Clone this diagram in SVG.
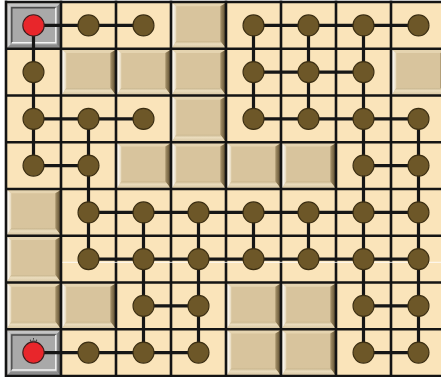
<svg xmlns="http://www.w3.org/2000/svg" width="441" height="377" viewBox="0 0 441 377">
<style>
.grid{stroke:#141414;stroke-width:2.6;fill:none}
.con line{stroke:#161616;stroke-width:3.2;stroke-linecap:butt}
.n{fill:#6d5728;stroke:#3b2e12;stroke-width:1.1}
.s{fill:#e8262b;stroke:#3b2020;stroke-width:1.1}
</style>
<defs>
<linearGradient id="gl" x1="0" y1="0" x2="1" y2="0">
<stop offset="0" stop-color="#ffffff"/><stop offset="1" stop-color="#e6d7b8"/>
</linearGradient>
<linearGradient id="gr" x1="0" y1="0" x2="1" y2="0">
<stop offset="0" stop-color="#a8946c"/><stop offset="1" stop-color="#5e4e30"/>
</linearGradient>
<linearGradient id="gb" x1="0" y1="0" x2="0" y2="1">
<stop offset="0" stop-color="#c9b68e"/><stop offset="0.4" stop-color="#eadcbd"/><stop offset="1" stop-color="#d9c8a4"/>
</linearGradient>
<g id="blk">
<rect x="0" y="0" width="53" height="44.5" fill="#d8c49d"/>
<polygon points="0,0 53,0 48,3 4,3" fill="#e5d4b0"/>
<polygon points="0,0 4,3 4,38 0,44.5" fill="url(#gl)"/>
<polygon points="53,0 53,44.5 48,38 48,3" fill="url(#gr)"/>
<polygon points="0,44.5 4,38 48,38 53,44.5" fill="url(#gb)"/>
</g>
<g id="gry">
<rect x="0" y="0" width="53" height="44.5" fill="#a3a3a3"/>
<polygon points="0,0 53,0 50,3 3,3" fill="#c4c4c4"/>
<polygon points="0,0 3,3 3,41.5 0,44.5" fill="#d0d0d0"/>
<polygon points="53,0 53,44.5 50,41.5 50,3" fill="#7a7a7a"/>
<polygon points="0,44.5 3,41.5 50,41.5 53,44.5" fill="#8c8c8c"/>
<rect x="4.5" y="4.5" width="44" height="35" fill="#a9a9a9"/>
<path d="M4.5 39.5 V4.5 H48.5" stroke="#4a4a4a" stroke-width="1.4" fill="none"/>
<path d="M48.5 4.5 V39.5 H4.5" stroke="#f4f4f4" stroke-width="1.4" fill="none"/>
</g>
</defs>
<rect x="0" y="0" width="441" height="377" fill="#ffffff"/>
<rect x="6" y="2" width="440" height="374" fill="#fae4ba"/>
<g id="tiles">
<use href="#gry" x="7.3" y="3.3"/>
<use href="#gry" x="7.3" y="330.55"/>
<use href="#blk" x="172.3" y="3.3"/>
<use href="#blk" x="62.3" y="50.05"/>
<use href="#blk" x="117.3" y="50.05"/>
<use href="#blk" x="172.3" y="50.05"/>
<use href="#blk" x="392.3" y="50.05"/>
<use href="#blk" x="172.3" y="96.8"/>
<use href="#blk" x="117.3" y="143.55"/>
<use href="#blk" x="172.3" y="143.55"/>
<use href="#blk" x="227.3" y="143.55"/>
<use href="#blk" x="282.3" y="143.55"/>
<use href="#blk" x="7.3" y="190.3"/>
<use href="#blk" x="7.3" y="237.05"/>
<use href="#blk" x="7.3" y="283.8"/>
<use href="#blk" x="62.3" y="283.8"/>
<use href="#blk" x="227.3" y="283.8"/>
<use href="#blk" x="282.3" y="283.8"/>
<use href="#blk" x="227.3" y="330.55"/>
<use href="#blk" x="282.3" y="330.55"/>
</g>
<path class="grid" d="M6 0.5V377 M61 0.5V377 M116 0.5V377 M171 0.5V377 M226 0.5V377 M281 0.5V377 M336 0.5V377 M391 0.5V377 M4.7 2H441 M4.7 48.75H441 M4.7 95.5H441 M4.7 142.25H441 M4.7 189H441 M4.7 235.75H441 M4.7 282.5H441 M4.7 329.25H441 M4.7 376H441"/>
<path d="M62.5 262.3H441" stroke="#ffffff" stroke-width="1" opacity="0.85"/>
<g id="connectors" class="con">
<line x1="33.5" y1="25.4" x2="88.5" y2="25.4"/>
<line x1="88.5" y1="25.4" x2="143.5" y2="25.4"/>
<line x1="253.5" y1="25.4" x2="418.5" y2="25.4"/>
<line x1="253.5" y1="72.1" x2="363.5" y2="72.1"/>
<line x1="33.5" y1="118.9" x2="143.5" y2="118.9"/>
<line x1="253.5" y1="118.9" x2="418.5" y2="118.9"/>
<line x1="33.5" y1="165.6" x2="88.5" y2="165.6"/>
<line x1="363.5" y1="165.6" x2="418.5" y2="165.6"/>
<line x1="88.5" y1="212.4" x2="418.5" y2="212.4"/>
<line x1="88.5" y1="259.1" x2="418.5" y2="259.1"/>
<line x1="143.5" y1="305.9" x2="198.5" y2="305.9"/>
<line x1="363.5" y1="305.9" x2="418.5" y2="305.9"/>
<line x1="33.5" y1="352.6" x2="198.5" y2="352.6"/>
<line x1="363.5" y1="352.6" x2="418.5" y2="352.6"/>
<line x1="33.5" y1="25.4" x2="33.5" y2="165.6"/>
<line x1="88.5" y1="118.9" x2="88.5" y2="259.1"/>
<line x1="143.5" y1="212.4" x2="143.5" y2="352.6"/>
<line x1="198.5" y1="212.4" x2="198.5" y2="352.6"/>
<line x1="253.5" y1="25.4" x2="253.5" y2="118.9"/>
<line x1="308.5" y1="25.4" x2="308.5" y2="118.9"/>
<line x1="253.5" y1="212.4" x2="253.5" y2="259.1"/>
<line x1="308.5" y1="212.4" x2="308.5" y2="259.1"/>
<line x1="363.5" y1="25.4" x2="363.5" y2="352.6"/>
<line x1="418.5" y1="118.9" x2="418.5" y2="352.6"/>
</g>
<g id="start-top"><circle class="s" cx="33.5" cy="25.4" r="10.7"/></g>
<g id="start-bottom"><path d="M29.5 342.6 Q33.5 339.2 37.5 342.6 M33.5 339.6V338 M30.4 341V339.6 M36.6 341V339.6" stroke="#3a3a3a" stroke-width="1" fill="none"/><circle class="s" cx="33.5" cy="352.6" r="10.7"/></g>
<g id="n-1-0"><circle class="n" cx="88.5" cy="25.4" r="10.5"/></g>
<g id="n-2-0"><circle class="n" cx="143.5" cy="25.4" r="10.5"/></g>
<g id="n-4-0"><circle class="n" cx="253.5" cy="25.4" r="10.5"/></g>
<g id="n-5-0"><circle class="n" cx="308.5" cy="25.4" r="10.5"/></g>
<g id="n-6-0"><circle class="n" cx="363.5" cy="25.4" r="10.5"/></g>
<g id="n-7-0"><circle class="n" cx="418.5" cy="25.4" r="10.5"/></g>
<g id="n-0-1"><circle class="n" cx="33.5" cy="72.1" r="10.5"/></g>
<g id="n-4-1"><circle class="n" cx="253.5" cy="72.1" r="10.5"/></g>
<g id="n-5-1"><circle class="n" cx="308.5" cy="72.1" r="10.5"/></g>
<g id="n-6-1"><circle class="n" cx="363.5" cy="72.1" r="10.5"/></g>
<g id="n-0-2"><circle class="n" cx="33.5" cy="118.9" r="10.5"/></g>
<g id="n-1-2"><circle class="n" cx="88.5" cy="118.9" r="10.5"/></g>
<g id="n-2-2"><circle class="n" cx="143.5" cy="118.9" r="10.5"/></g>
<g id="n-4-2"><circle class="n" cx="253.5" cy="118.9" r="10.5"/></g>
<g id="n-5-2"><circle class="n" cx="308.5" cy="118.9" r="10.5"/></g>
<g id="n-6-2"><circle class="n" cx="363.5" cy="118.9" r="10.5"/></g>
<g id="n-7-2"><circle class="n" cx="418.5" cy="118.9" r="10.5"/></g>
<g id="n-0-3"><circle class="n" cx="33.5" cy="165.6" r="10.5"/></g>
<g id="n-1-3"><circle class="n" cx="88.5" cy="165.6" r="10.5"/></g>
<g id="n-6-3"><circle class="n" cx="363.5" cy="165.6" r="10.5"/></g>
<g id="n-7-3"><circle class="n" cx="418.5" cy="165.6" r="10.5"/></g>
<g id="n-1-4"><circle class="n" cx="88.5" cy="212.4" r="10.5"/></g>
<g id="n-2-4"><circle class="n" cx="143.5" cy="212.4" r="10.5"/></g>
<g id="n-3-4"><circle class="n" cx="198.5" cy="212.4" r="10.5"/></g>
<g id="n-4-4"><circle class="n" cx="253.5" cy="212.4" r="10.5"/></g>
<g id="n-5-4"><circle class="n" cx="308.5" cy="212.4" r="10.5"/></g>
<g id="n-6-4"><circle class="n" cx="363.5" cy="212.4" r="10.5"/></g>
<g id="n-7-4"><circle class="n" cx="418.5" cy="212.4" r="10.5"/></g>
<g id="n-1-5"><circle class="n" cx="88.5" cy="259.1" r="10.5"/></g>
<g id="n-2-5"><circle class="n" cx="143.5" cy="259.1" r="10.5"/></g>
<g id="n-3-5"><circle class="n" cx="198.5" cy="259.1" r="10.5"/></g>
<g id="n-4-5"><circle class="n" cx="253.5" cy="259.1" r="10.5"/></g>
<g id="n-5-5"><circle class="n" cx="308.5" cy="259.1" r="10.5"/></g>
<g id="n-6-5"><circle class="n" cx="363.5" cy="259.1" r="10.5"/></g>
<g id="n-7-5"><circle class="n" cx="418.5" cy="259.1" r="10.5"/></g>
<g id="n-2-6"><circle class="n" cx="143.5" cy="305.9" r="10.5"/></g>
<g id="n-3-6"><circle class="n" cx="198.5" cy="305.9" r="10.5"/></g>
<g id="n-6-6"><circle class="n" cx="363.5" cy="305.9" r="10.5"/></g>
<g id="n-7-6"><circle class="n" cx="418.5" cy="305.9" r="10.5"/></g>
<g id="n-1-7"><circle class="n" cx="88.5" cy="352.6" r="10.5"/></g>
<g id="n-2-7"><circle class="n" cx="143.5" cy="352.6" r="10.5"/></g>
<g id="n-3-7"><circle class="n" cx="198.5" cy="352.6" r="10.5"/></g>
<g id="n-6-7"><circle class="n" cx="363.5" cy="352.6" r="10.5"/></g>
<g id="n-7-7"><circle class="n" cx="418.5" cy="352.6" r="10.5"/></g>
</svg>
